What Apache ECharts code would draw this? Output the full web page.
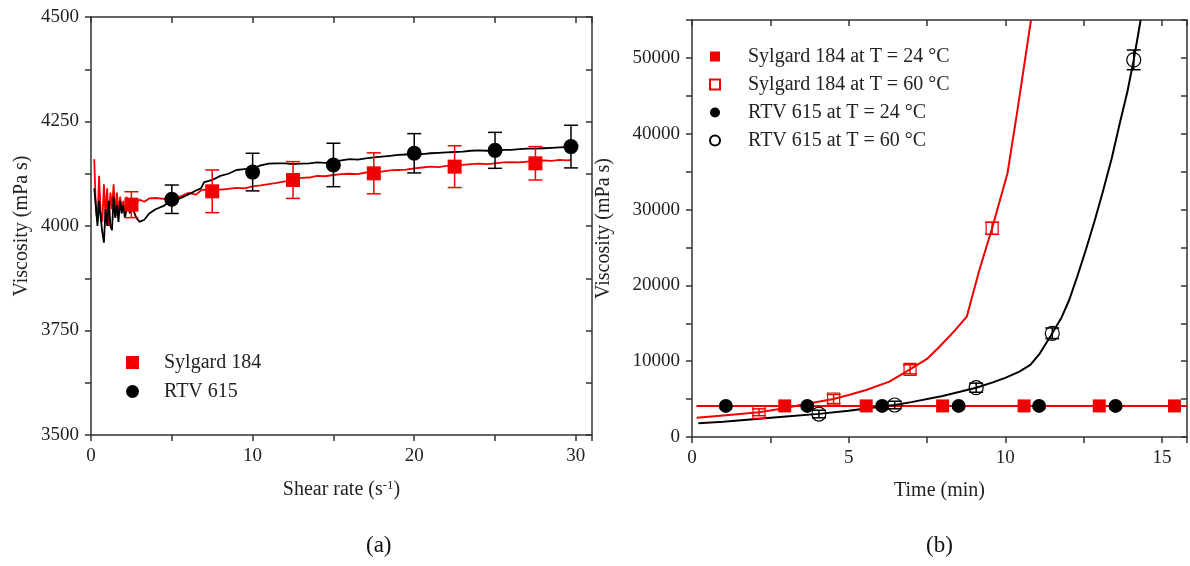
<!DOCTYPE html>
<html>
<head>
<meta charset="utf-8">
<script src="https://cdn.jsdelivr.net/npm/echarts@6.0.0/dist/echarts.min.js"></script>
<style>
  html, body { margin: 0; padding: 0; background: #fff; }
  #main { width: 1190px; height: 566px; }
</style>
</head>
<body>
<div id="main"></div>
<script>
// (a) viscosity vs shear rate
var traceX = [0.2, 0.3, 0.4, 0.5, 0.6, 0.7, 0.8, 0.9, 1.0, 1.1, 1.2, 1.3, 1.4, 1.5, 1.6, 1.7, 1.8, 1.9, 2.0, 2.1, 2.2, 2.3, 2.4, 2.5, 2.6,
  2.8, 3.0, 3.3, 3.6, 4.0, 4.5, 5.0, 5.5, 6.0, 6.5, 6.8, 7.0, 7.3, 7.6, 8.0, 8.5,
  9.0, 9.5, 10.0, 10.5, 11.0, 11.5, 12.0, 12.5, 13.0, 13.5, 14.0, 14.5, 15.0, 15.5, 16.0, 16.5, 17.0, 17.5, 18.0, 18.5,
  19.0, 19.5, 20.0, 20.5, 21.0, 21.5, 22.0, 22.5, 23.0, 23.5, 24.0, 24.5, 25.0, 25.5, 26.0, 26.5, 27.0, 27.5, 28.0, 28.5,
  29.0, 29.5, 29.7];
var sylTrace = [4160, 4040, 4010, 4120, 4030, 4010, 4100, 4020, 4090, 4000, 4080, 4040, 4100, 4020, 4080, 4030, 4070, 4040, 4060, 4030, 4070, 4040, 4060, 4050, 4065,
  4055, 4063, 4058, 4066, 4067, 4065, 4071, 4070, 4079, 4075, 4085, 4087, 4082, 4088, 4087, 4089,
  4091, 4090, 4095, 4097, 4100, 4103, 4107, 4110, 4115, 4116, 4120, 4119, 4122, 4124, 4125, 4124, 4128, 4129, 4130, 4133,
  4134, 4135, 4138, 4140, 4142, 4141, 4144, 4145, 4146, 4148, 4149, 4148, 4150, 4152, 4153, 4152, 4154, 4156, 4157, 4156,
  4158, 4157, 4158];
var rtvTrace = [4090, 4050, 4000, 4060, 4020, 3985, 3960, 4040, 4000, 4060, 4000, 3990, 4070, 4020, 4050, 4010, 4060, 4030, 4050, 4020, 4040, 4060, 4030, 4050, 4040,
  4020, 4010, 4015, 4030, 4040, 4048, 4064, 4066, 4075, 4085, 4090, 4105, 4108, 4112, 4120, 4125,
  4134, 4136, 4138, 4145, 4149, 4150, 4150, 4148, 4149, 4150, 4152, 4151, 4154, 4157, 4160, 4159, 4162, 4164, 4166, 4168,
  4170, 4171, 4173, 4172, 4174, 4175, 4176, 4177, 4178, 4180, 4181, 4180, 4181, 4182, 4182, 4184, 4185, 4185, 4186, 4187,
  4188, 4189, 4190];

var sylX = [2.5, 7.5, 12.5, 17.5, 22.5, 27.5];
var sylY = [4051, 4083, 4110, 4126, 4142, 4150];
var sylErr = [31, 51, 44, 49, 50, 40];
var rtvX = [5, 10, 15, 20, 25, 29.7];
var rtvY = [4064, 4129, 4146, 4174, 4181, 4190];
var rtvErr = [34, 45, 52, 47, 43, 51];

// (b) viscosity vs time
var syl24X = [2.96, 5.56, 8.0, 10.6, 13.0, 15.4];
var syl24Y = [4100, 4100, 4100, 4100, 4100, 4100];
var syl24LineX = [0.15, 15.8];
var syl24LineY = [4100, 4100];
var rtv24X = [1.08, 3.68, 6.07, 8.51, 11.08, 13.52];
var rtv24Y = [4100, 4100, 4100, 4100, 4100, 4100];
var rtv24LineX = [0.15, 13.52];
var rtv24LineY = [4100, 4100];

var syl60X = [2.14, 4.52, 6.96, 9.58];
var syl60Y = [3260, 5010, 8930, 27530];
var syl60Err = [450, 600, 600, 800];
var syl60FitX = [0.15, 1.0, 2.14, 2.8, 3.5, 4.52, 5.0, 5.56, 6.3, 6.96, 7.5, 7.9, 8.4, 8.77, 9.17, 9.58, 10.07, 10.39, 10.82];
var syl60FitY = [2550, 2850, 3260, 3690, 4250, 5010, 5550, 6200, 7300, 8930, 10300, 11900, 14100, 15870, 22000, 27530, 34790, 43140, 55000];

var rtv60X = [4.05, 6.47, 9.07, 11.5, 14.1];
var rtv60Y = [3030, 4220, 6500, 13680, 49740];
var rtv60Err = [500, 500, 600, 700, 1300];
var rtv60FitX = [0.2, 1.0, 2.14, 3.0, 4.05, 5.0, 6.0, 6.47, 7.0, 8.0, 9.07, 9.6, 10.0, 10.45, 10.8, 11.1, 11.5, 11.8, 12.04, 12.3, 12.57, 12.85, 13.1, 13.4, 13.63, 13.9, 14.1, 14.32];
var rtv60FitY = [1800, 2000, 2400, 2700, 3050, 3450, 4000, 4220, 4600, 5400, 6500, 7200, 7800, 8620, 9500, 11000, 13680, 15800, 18070, 21200, 24670, 28500, 32150, 36800, 40940, 45600, 49740, 55000];

var FONT = 'Liberation Serif';
var RED = '#f00000';
var AXIS = '#333';

function pairs(xs, ys) {
  return xs.map(function (x, i) { return [x, ys[i]]; });
}

function axis(gi, pos, min, max, step, labelStep, extra) {
  var main = pos === 'bottom' || pos === 'left';
  var a = {
    type: 'value', gridIndex: gi, position: pos, min: min, max: max, interval: step,
    axisLine: { show: true, onZero: false, lineStyle: { color: AXIS, width: 1.5 } },
    axisTick: { show: true, inside: !main, length: 6, lineStyle: { color: AXIS, width: 1.5 } },
    axisLabel: {
      show: main, margin: 12, color: '#222', fontFamily: FONT, fontSize: 19,
      formatter: function (v) { return Math.abs(v % labelStep) < 1e-6 ? String(v) : ''; }
    },
    splitLine: { show: false }
  };
  return Object.assign(a, extra || {});
}

function errBars(xs, ys, errs, color, xi, yi, cap) {
  return {
    type: 'custom', xAxisIndex: xi, yAxisIndex: yi, silent: true, z: 3,
    data: xs.map(function (x, i) { return [x, ys[i] - errs[i], ys[i] + errs[i]]; }),
    encode: { x: 0, y: [1, 2] },
    renderItem: function (params, api) {
      var lo = api.coord([api.value(0), api.value(1)]);
      var hi = api.coord([api.value(0), api.value(2)]);
      var st = { stroke: color, lineWidth: 1.5 };
      return {
        type: 'group',
        children: [
          { type: 'line', shape: { x1: lo[0], y1: lo[1], x2: hi[0], y2: hi[1] }, style: st },
          { type: 'line', shape: { x1: lo[0] - cap, y1: lo[1], x2: lo[0] + cap, y2: lo[1] }, style: st },
          { type: 'line', shape: { x1: hi[0] - cap, y1: hi[1], x2: hi[0] + cap, y2: hi[1] }, style: st }
        ]
      };
    }
  };
}

var chart = echarts.init(document.getElementById('main'));

var option = {
  animation: false,
  backgroundColor: '#fff',
  grid: [
    { left: 91, top: 17, width: 501, height: 418 },
    { left: 692, top: 20, width: 496, height: 417 }
  ],
  xAxis: [
    axis(0, 'bottom', 0, 31, 5, 10, {
      name: 'Shear rate (s{sup|-1})', nameLocation: 'middle', nameGap: 44,
      nameTextStyle: { fontFamily: FONT, fontSize: 20, color: '#222',
        rich: { sup: { fontFamily: FONT, fontSize: 13, color: '#222', padding: [0, 0, 9, 0] } } }
    }),
    axis(0, 'top', 0, 31, 5, 10),
    axis(1, 'bottom', 0, 15.8, 2.5, 5, {
      name: 'Time (min)', nameLocation: 'middle', nameGap: 44,
      nameTextStyle: { fontFamily: FONT, fontSize: 20, color: '#222' }
    }),
    axis(1, 'top', 0, 15.8, 2.5, 5)
  ],
  yAxis: [
    axis(0, 'left', 3500, 4500, 125, 250, {
      name: 'Viscosity (mPa s)', nameLocation: 'middle', nameGap: 59,
      nameTextStyle: { fontFamily: FONT, fontSize: 20, color: '#222' }
    }),
    axis(0, 'right', 3500, 4500, 125, 250),
    axis(1, 'left', 0, 55000, 5000, 10000, {
      name: 'Viscosity (mPa s)', nameLocation: 'middle', nameGap: 78,
      nameTextStyle: { fontFamily: FONT, fontSize: 20, color: '#222' }
    }),
    axis(1, 'right', 0, 55000, 5000, 10000)
  ],
  legend: [
    {
      orient: 'vertical', left: 121, top: 347, itemWidth: 13, itemHeight: 13, itemGap: 8,
      textStyle: { fontFamily: FONT, fontSize: 20, color: '#222', lineHeight: 21, padding: [0, 0, 0, 20] },
      data: ['Sylgard 184', 'RTV 615'], selectedMode: false
    },
    {
      orient: 'vertical', left: 704, top: 41, itemWidth: 10, itemHeight: 10, itemGap: 7,
      textStyle: { fontFamily: FONT, fontSize: 20, color: '#222', lineHeight: 21, padding: [0, 0, 0, 23] },
      data: ['Sylgard 184 at T = 24 °C', 'Sylgard 184 at T = 60 °C', 'RTV 615 at T = 24 °C', 'RTV 615 at T = 60 °C'],
      selectedMode: false
    }
  ],
  graphic: [
    { type: 'text', left: 366, top: 534, style: { text: '(a)', font: '23px "Liberation Serif"', fill: '#111' } },
    { type: 'text', left: 926, top: 534, style: { text: '(b)', font: '23px "Liberation Serif"', fill: '#111' } }
  ],
  series: [
    // panel (a)
    { type: 'line', name: 'sylTrace', xAxisIndex: 0, yAxisIndex: 0, data: pairs(traceX, sylTrace),
      showSymbol: false, lineStyle: { color: RED, width: 1.8 }, z: 2 },
    { type: 'line', name: 'rtvTrace', xAxisIndex: 0, yAxisIndex: 0, data: pairs(traceX, rtvTrace),
      showSymbol: false, lineStyle: { color: '#000', width: 1.8 }, z: 2 },
    errBars(sylX, sylY, sylErr, RED, 0, 0, 7),
    errBars(rtvX, rtvY, rtvErr, '#000', 0, 0, 7),
    { type: 'scatter', name: 'Sylgard 184', xAxisIndex: 0, yAxisIndex: 0, data: pairs(sylX, sylY),
      symbol: 'rect', symbolSize: 14, itemStyle: { color: RED, opacity: 1 }, z: 4 },
    { type: 'scatter', name: 'RTV 615', xAxisIndex: 0, yAxisIndex: 0, data: pairs(rtvX, rtvY),
      symbol: 'circle', symbolSize: 15, itemStyle: { color: '#000', opacity: 1 }, z: 4 },

    // panel (b)
    { type: 'line', name: 'rtv24Line', xAxisIndex: 2, yAxisIndex: 2, data: pairs(rtv24LineX, rtv24LineY),
      showSymbol: false, lineStyle: { color: '#000', width: 2 }, z: 2 },
    { type: 'line', name: 'syl24Line', xAxisIndex: 2, yAxisIndex: 2, data: pairs(syl24LineX, syl24LineY),
      showSymbol: false, lineStyle: { color: RED, width: 2 }, z: 2 },
    { type: 'line', name: 'syl60Fit', xAxisIndex: 2, yAxisIndex: 2, data: pairs(syl60FitX, syl60FitY),
      showSymbol: false, smooth: false, lineStyle: { color: RED, width: 2 }, z: 2 },
    { type: 'line', name: 'rtv60Fit', xAxisIndex: 2, yAxisIndex: 2, data: pairs(rtv60FitX, rtv60FitY),
      showSymbol: false, smooth: false, lineStyle: { color: '#000', width: 2 }, z: 2 },
    errBars(syl60X, syl60Y, syl60Err, RED, 2, 2, 7),
    errBars(rtv60X, rtv60Y, rtv60Err, '#000', 2, 2, 7),
    { type: 'scatter', name: 'Sylgard 184 at T = 24 °C', xAxisIndex: 2, yAxisIndex: 2, data: pairs(syl24X, syl24Y),
      symbol: 'rect', symbolSize: 13, itemStyle: { color: RED, opacity: 1 }, z: 4 },
    { type: 'scatter', name: 'Sylgard 184 at T = 60 °C', xAxisIndex: 2, yAxisIndex: 2, data: pairs(syl60X, syl60Y),
      symbol: 'rect', symbolSize: 12, itemStyle: { color: 'rgba(255,255,255,0)', borderColor: RED, borderWidth: 1.2, opacity: 1 }, z: 4 },
    { type: 'scatter', name: 'RTV 615 at T = 24 °C', xAxisIndex: 2, yAxisIndex: 2, data: pairs(rtv24X, rtv24Y),
      symbol: 'circle', symbolSize: 14, itemStyle: { color: '#000', opacity: 1 }, z: 4 },
    { type: 'scatter', name: 'RTV 615 at T = 60 °C', xAxisIndex: 2, yAxisIndex: 2, data: pairs(rtv60X, rtv60Y),
      symbol: 'circle', symbolSize: 14, itemStyle: { color: 'rgba(255,255,255,0)', borderColor: '#000', borderWidth: 1.2, opacity: 1 }, z: 4 }
  ]
};

chart.setOption(option);
</script>
</body>
</html>
